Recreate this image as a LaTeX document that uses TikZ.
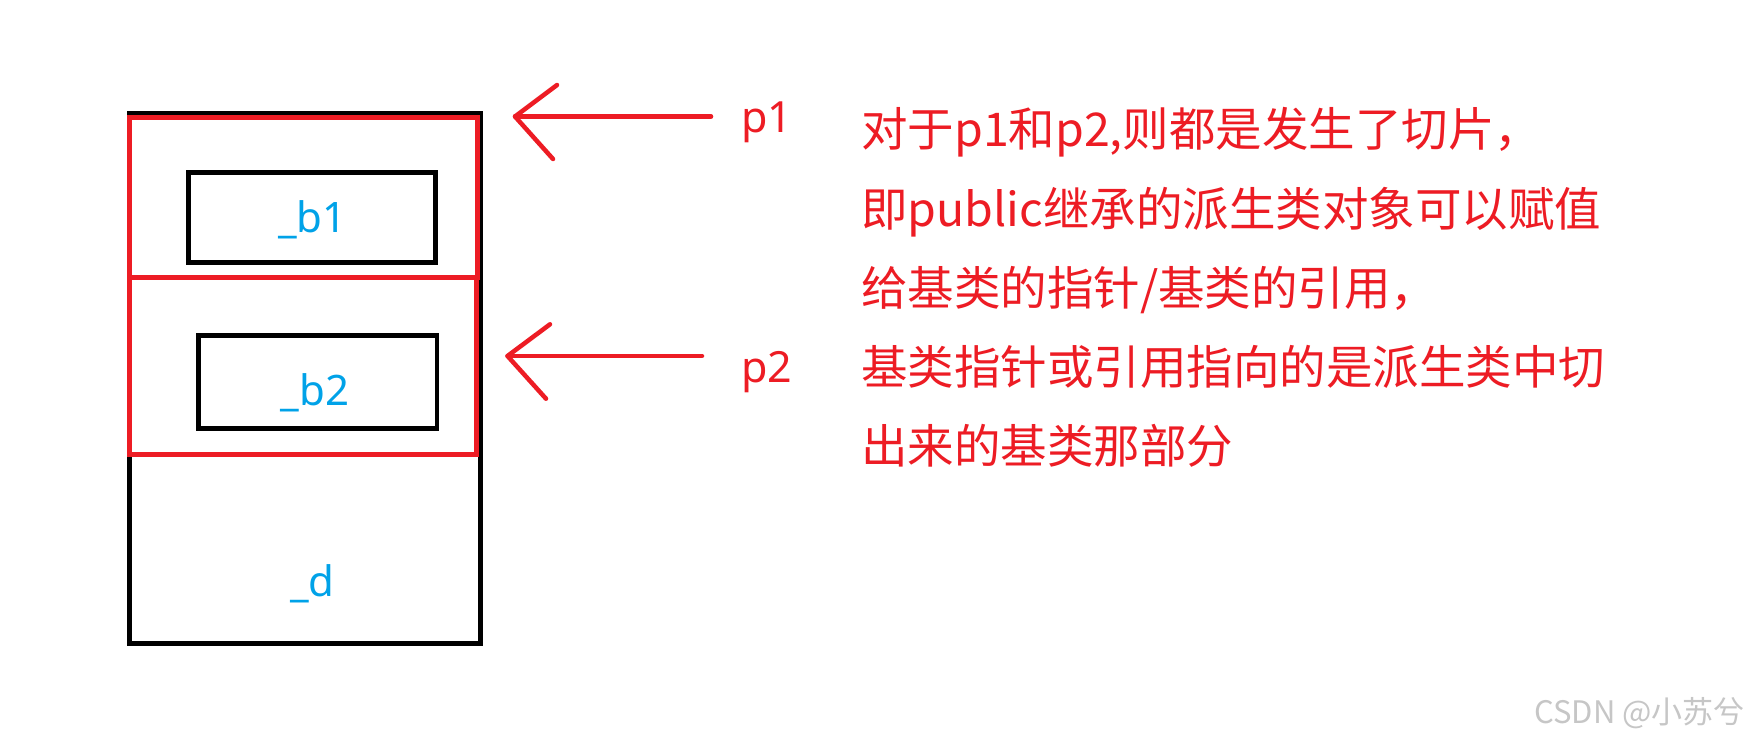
\documentclass[tikz,border=0pt]{standalone}
\usepackage{fontspec}
\setmainfont{Noto Sans}
\newfontfamily\cjk{Noto Sans CJK SC}
\usetikzlibrary{calc}
\definecolor{pred}{RGB}{237,28,36}
\definecolor{pblue}{RGB}{0,162,232}
\begin{document}
\begin{tikzpicture}[x=1pt,y=-1pt,
  blackbox/.style={draw=black,line width=5pt,inner sep=0pt},
  redbox/.style={draw=pred,line width=5pt,inner sep=0pt},
  innerbox/.style={draw=black,line width=4.5pt,inner sep=0pt},
  membertext/.style={text=pblue,font=\fontsize{42}{50}\selectfont,inner sep=0pt,anchor=base},
  ptext/.style={text=pred,font=\fontsize{43}{50}\selectfont,inner sep=0pt,anchor=base west},
  note/.style={text=pred,font=\cjk\fontsize{46.5}{55}\selectfont,inner sep=0pt,anchor=base west},
  pointer/.style={draw=pred,line width=4.5pt,line cap=round,line join=round},
]
\fill[white] (0,0) rectangle (1749,741);
\useasboundingbox (0,0) rectangle (1749,741);

% boxes
\node[blackbox,minimum width=350.5pt,minimum height=530pt] (outer) at (304.75,378.5) {};
\node[redbox,minimum width=347.5pt,minimum height=159.5pt] (slice1) at (303.25,197.25) {};
\node[redbox,minimum width=347pt,minimum height=177pt] (slice2) at (303,365.5) {};
\node[innerbox,minimum width=247pt,minimum height=90pt] (b1box) at (312,217.5) {};
\node[innerbox,minimum width=238.5pt,minimum height=93pt] (b2box) at (317.75,382) {};

% member labels
\node[membertext] (b1) at (312.5,233) {\_b1};
\node[membertext] (b2) at (315,405) {\_b2};
\node[membertext] (dd) at (312.5,596) {\_d};

% pointer labels
\node[ptext] (p1) at (741,133) {p1};
\node[ptext] (p2) at (741,382) {p2};

% arrows
\coordinate (a1s) at (711,116.5);
\coordinate (a1t) at (515,116.5);
\draw[pointer] (a1s) -- (a1t);
\draw[pointer] ($(a1t)+(42,-31.5)$) -- (a1t) -- ($(a1t)+(38,42.5)$);
\coordinate (a2s) at (702,356);
\coordinate (a2t) at (507.5,356);
\draw[pointer] (a2s) -- (a2t);
\draw[pointer] ($(a2t)+(42.5,-31.7)$) -- (a2t) -- ($(a2t)+(38.5,42.7)$);

% explanation
\node[note] (l1) at (861,147) {对于p1和p2,则都是发生了切片，};
\node[note] (l2) at (861,226) {即public继承的派生类对象可以赋值};
\node[note] (l3) at (861,305) {给基类的指针/基类的引用，};
\node[note] (l4) at (861,384) {基类指针或引用指向的是派生类中切};
\node[note] (l5) at (861,463) {出来的基类那部分};

% watermark
\node[anchor=base east,text=gray!45,font=\cjk\fontsize{31}{33}\selectfont,inner sep=0pt] (wm) at (1745,723) {CSDN @小苏兮};
\end{tikzpicture}
\end{document}
